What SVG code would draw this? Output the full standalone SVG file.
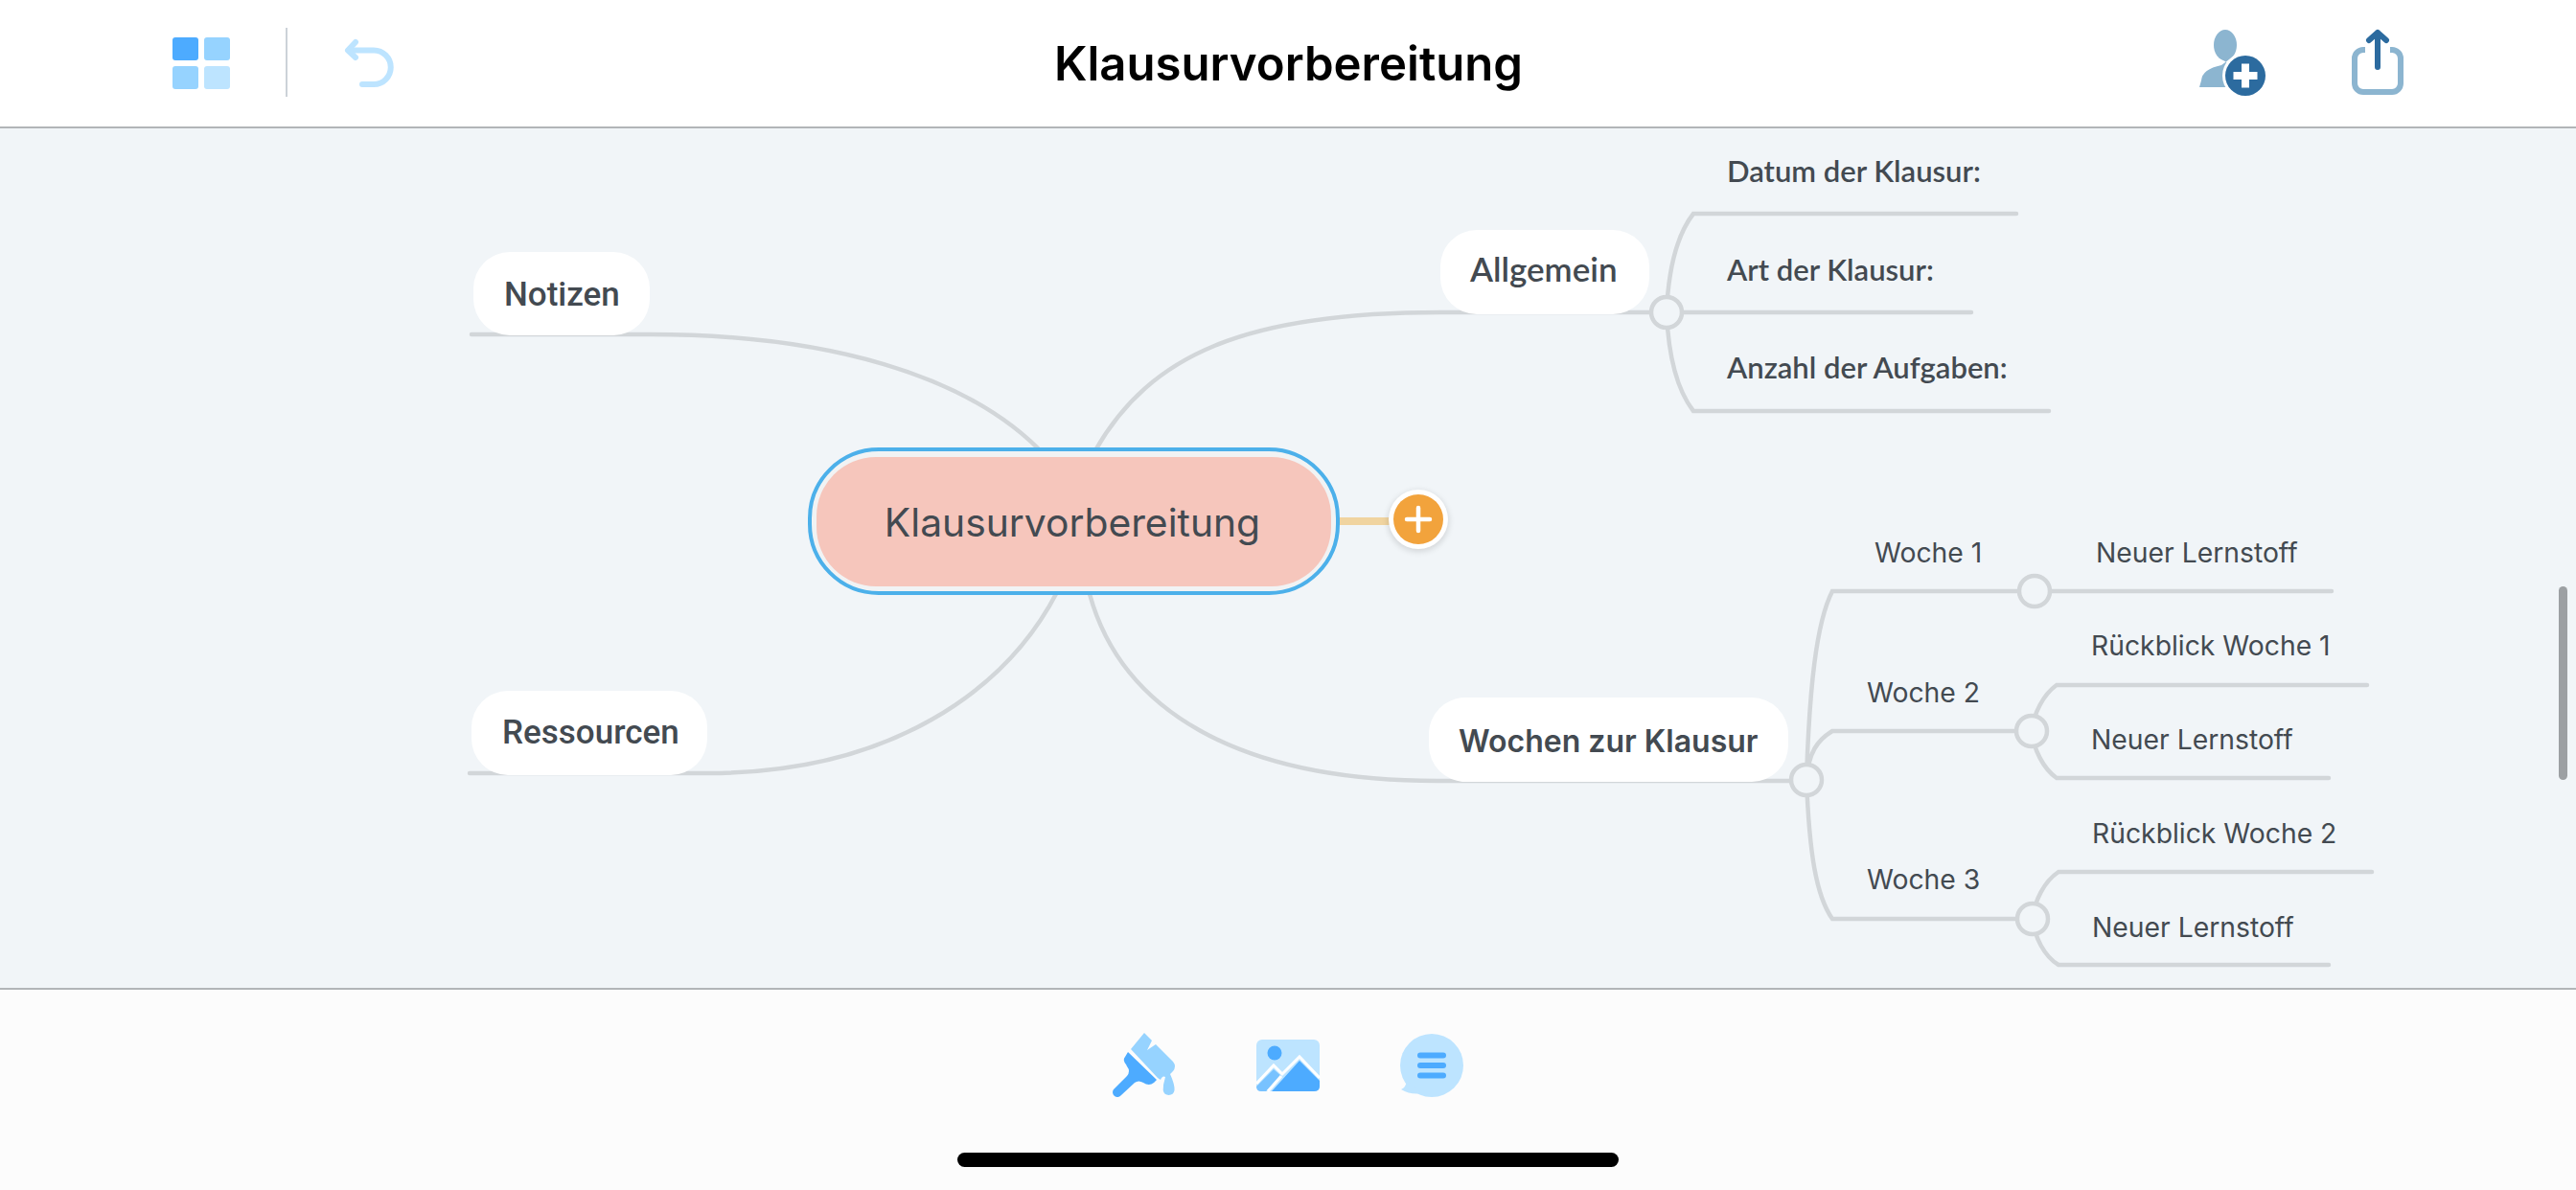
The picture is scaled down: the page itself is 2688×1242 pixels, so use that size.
<svg xmlns="http://www.w3.org/2000/svg" width="2688" height="1242" viewBox="0 0 2688 1242">
<defs><filter id="sh" x="-30%" y="-30%" width="160%" height="160%"><feGaussianBlur stdDeviation="3"/></filter></defs>
<style>
.l{fill:none;stroke:#d2d6d9;stroke-width:4.500;stroke-linecap:round}
.c{fill:#f1f5f8;stroke:#d2d6d9;stroke-width:4.500}
.n{fill:#fff}
text{fill:#434a51}
.b{font-family:"Inter","Liberation Sans",sans-serif;font-size:32px;font-weight:600}
.r{font-family:"Roboto","Liberation Sans",sans-serif;font-size:35px;font-weight:500}
.a{font-family:"Lato","Liberation Sans",sans-serif;font-size:31px;font-weight:600}
.s{font-family:"Inter","Liberation Sans",sans-serif;font-size:28.300px;font-weight:400}
</style>
<rect width="2688" height="1242" fill="#f1f5f8"/>
<rect width="2688" height="132" fill="#fff"/>
<rect y="132" width="2688" height="2" fill="#b2b5b8"/>
<rect y="1032" width="2688" height="210" fill="#fcfcfc"/>
<rect y="1031" width="2688" height="2" fill="#b2b5b8"/>
<rect x="999" y="1203" width="690" height="15" rx="7.500" fill="#000"/>
<rect x="2670" y="612" width="9" height="202" rx="4.500" fill="#9ca0a3"/>
<text x="1344.500" y="84" text-anchor="middle" style="fill:#000;font-family:Inter,'Liberation Sans',sans-serif;font-size:49.100px;font-weight:600">Klausurvorbereitung</text>
<g id="icon-grid">
<rect x="180" y="39" width="27" height="24" rx="3" fill="#4dabff"/>
<rect x="213" y="39" width="27" height="24" rx="3" fill="#96d3ff"/>
<rect x="180" y="69" width="27" height="24" rx="3" fill="#96d3ff"/>
<rect x="213" y="69" width="27" height="24" rx="3" fill="#bde4ff"/>
</g>
<rect x="298" y="29" width="2" height="72" fill="#ccd2d8"/>
<g id="icon-undo" fill="none" stroke="#bde4ff" stroke-width="6" stroke-linecap="round" stroke-linejoin="round">
<path d="M364 52.500H390A17.500 17.500 0 0 1 390 88H378"/><path d="M371 44L363 52.500L371 60"/>
</g>
<g id="icon-person">
<ellipse cx="2322" cy="47" rx="12" ry="16" fill="#8cb5d0"/>
<path d="M2315 60H2329L2318 68Q2298 72 2297 84L2295 91H2325V66Z" fill="#8cb5d0"/>
<circle cx="2343" cy="79" r="24" fill="#fff"/>
<circle cx="2343" cy="79" r="21" fill="#2c6b9f"/>
<path d="M2330.500 79H2355.500M2343 66.500V91.500" stroke="#fff" stroke-width="8"/>
</g>
<g id="icon-share" fill="none" stroke-width="6" stroke-linecap="round" stroke-linejoin="round">
<path d="M2468 52H2466A9 9 0 0 0 2457 61V87A9 9 0 0 0 2466 96H2496A9 9 0 0 0 2505 87V61A9 9 0 0 0 2496 52H2494" stroke="#8cb5d0" stroke-linecap="butt"/>
<path d="M2481 70V34M2472 42L2481 34L2490 42" stroke="#2c6b9f"/>
</g>
<g id="icon-brush">
<path d="M1180 1095L1194 1078L1202 1086L1197 1096L1206 1090L1224 1108Q1228 1113 1224 1118L1221 1121Q1226 1132 1225.500 1138A6 6 0 0 1 1213.700 1138Q1213.500 1132 1216 1124Q1213 1122 1211 1127L1208 1125Z" fill="#96d3ff"/>
<path d="M1177 1098L1207 1127L1204 1130Q1199 1134 1193 1130Q1188 1127 1184 1130L1170 1143A5 5 0 0 1 1162 1137L1176 1123Q1180 1118 1176 1113L1175 1111Q1171 1106 1174 1103Z" fill="#4dabff"/>
</g>
<g id="icon-image">
<rect x="1311" y="1085" width="66" height="54" rx="6" fill="#bde4ff"/>
<circle cx="1330" cy="1099" r="7.500" fill="#4dabff"/>
<path d="M1321 1139L1337 1123L1329 1116L1311 1134Q1311 1139 1316 1139Z" fill="#78c2ff"/>
<path d="M1327 1139L1356 1107L1377 1128V1134Q1377 1139 1371 1139Z" fill="#4dabff"/>
<path d="M1311 1131L1329 1112L1338 1121L1356 1103L1377 1125M1337 1123L1323 1139" fill="none" stroke="#fff" stroke-width="3"/>
</g>
<g id="icon-note">
<circle cx="1494" cy="1112" r="33" fill="#bde4ff"/>
<path d="M1468 1128Q1467 1135 1462 1137Q1472 1143 1484 1141Z" fill="#bde4ff"/>
<rect x="1479" y="1098.500" width="30" height="6" rx="3" fill="#4dabff"/>
<rect x="1479" y="1109" width="30" height="6" rx="3" fill="#4dabff"/>
<rect x="1479" y="1119.500" width="30" height="6" rx="3" fill="#4dabff"/>
</g>
<g id="connectors">
<path class="l" d="M492 349H678C860 349 1010 390 1090 475"/>
<path class="l" d="M490 807H738C930 807 1050 720 1103 618"/>
<path class="l" d="M1721 326H1503C1300 326 1200 370 1143 470"/>
<path class="l" d="M1137 620C1170 740 1290 815 1500 815H1868"/>
<path d="M1398 544H1450" fill="none" stroke="#f0d4a0" stroke-width="8"/>
<path class="l" d="M1739 326C1741 280 1750 245 1767 223H2104"/>
<path class="l" d="M1739 326H2057"/>
<path class="l" d="M1739 326C1741 372 1750 407 1767 429H2138"/>
<path class="l" d="M1885 814C1888 720 1895 650 1912 617H2433"/>
<path class="l" d="M1885 814C1887 785 1897 772 1912 763H2120"/>
<path class="l" d="M1885 814C1888 890 1895 935 1912 959H2120"/>
<path class="l" d="M2120 763C2122 745 2132 725 2146 715H2470"/>
<path class="l" d="M2120 763C2122 782 2132 802 2146 812H2430"/>
<path class="l" d="M2121 959C2123 940 2133 920 2148 910H2475"/>
<path class="l" d="M2121 959C2123 978 2133 998 2148 1007H2430"/>
</g>
<g id="node-root">
<rect x="845" y="469" width="551" height="150" rx="72" fill="#f1f3f4" stroke="#4cb0ea" stroke-width="4"/>
<rect x="852" y="477" width="537" height="135" rx="62" fill="#f6c6bc"/>
<text x="1119" y="560" text-anchor="middle" style="font-family:Inter,'Liberation Sans',sans-serif;font-size:40.800px;font-weight:400">Klausurvorbereitung</text>
</g>
<g id="node-add">
<circle cx="1480" cy="544" r="32" fill="#000" opacity=".12" filter="url(#sh)"/>
<circle cx="1480" cy="542" r="31" fill="#fff"/>
<circle cx="1480" cy="542" r="26" fill="#f2a33c"/>
<path d="M1468 542H1492M1480 530V554" stroke="#fff" stroke-width="4.500" stroke-linecap="round"/>
</g>
<g id="node-notizen"><rect class="n" x="494" y="263" width="184" height="87" rx="38"/><text class="r" x="526" y="319">Notizen</text></g>
<g id="node-ressourcen"><rect class="n" x="492" y="721" width="246" height="88" rx="38"/><text class="r" x="524" y="776">Ressourcen</text></g>
<g id="node-allgemein"><rect class="n" x="1503" y="240" width="218" height="88" rx="38"/><text class="a" x="1534" y="294" style="font-size:35px">Allgemein</text></g>
<g id="node-wochen"><rect class="n" x="1491" y="728" width="375" height="88" rx="38"/><text class="b" x="1522" y="785">Wochen zur Klausur</text></g>
<g id="node-datum"><text class="a" x="1802" y="190">Datum der Klausur:</text></g>
<g id="node-art"><circle class="c" cx="1739" cy="326" r="16"/><text class="a" x="1802" y="293">Art der Klausur:</text></g>
<g id="node-anzahl"><text class="a" x="1802" y="395">Anzahl der Aufgaben:</text></g>
<g id="node-w1"><circle class="c" cx="2123" cy="617" r="16"/><text class="s" x="1956" y="587">Woche 1</text></g>
<g id="node-w1-1"><text class="s" x="2187" y="587">Neuer Lernstoff</text></g>
<g id="node-w2"><circle class="c" cx="2120" cy="763" r="16"/><text class="s" x="1948" y="733">Woche 2</text></g>
<g id="node-w2-1"><text class="s" x="2182" y="684">Rückblick Woche 1</text></g>
<g id="node-w2-2"><text class="s" x="2182" y="782">Neuer Lernstoff</text></g>
<g id="node-w3"><circle class="c" cx="2121" cy="959" r="16"/><text class="s" x="1948" y="928">Woche 3</text></g>
<g id="node-w3-1"><text class="s" x="2183" y="880">Rückblick Woche 2</text></g>
<g id="node-w3-2"><text class="s" x="2183" y="978">Neuer Lernstoff</text></g>
<circle class="c" cx="1885" cy="814" r="16"/>
</svg>
